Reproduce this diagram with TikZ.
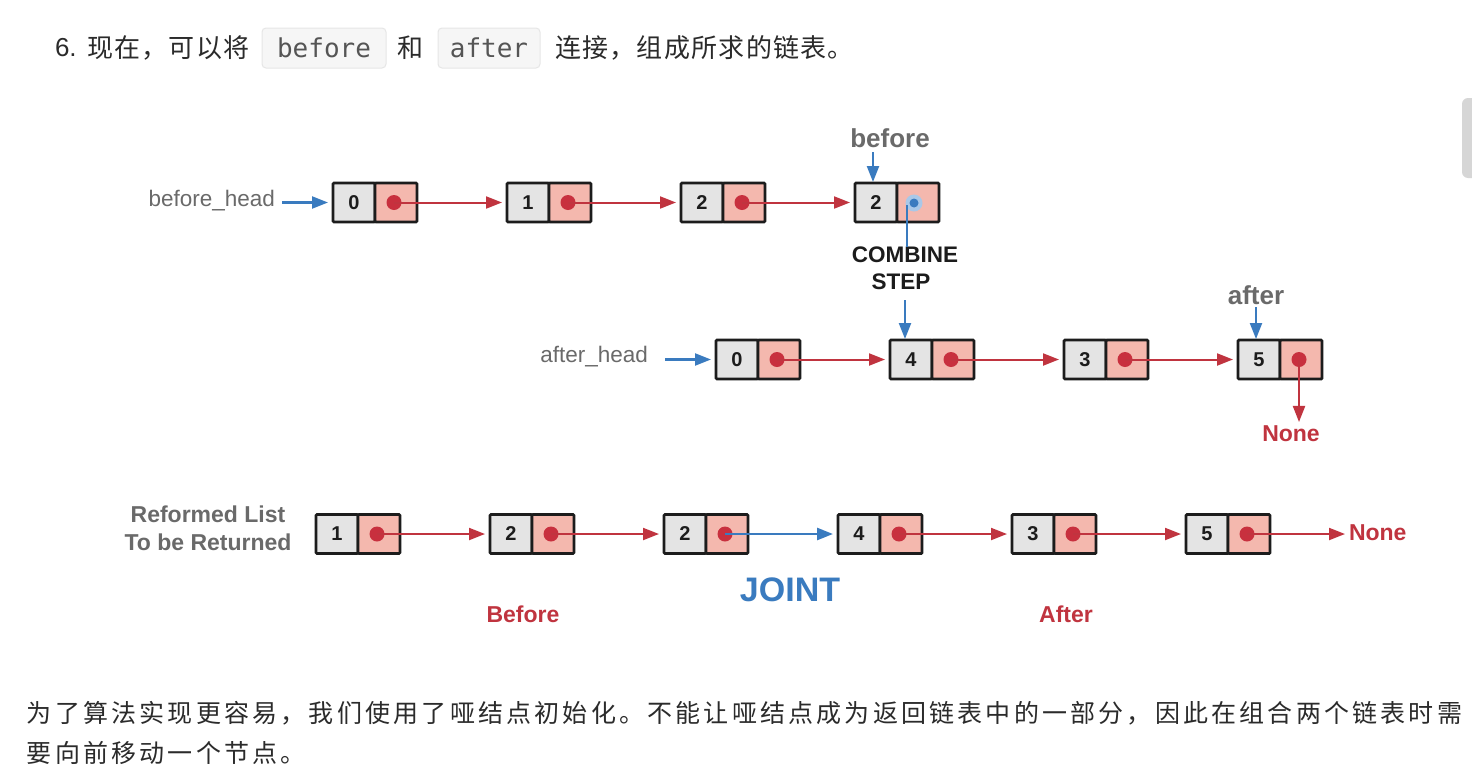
\documentclass[tikz,border=0pt]{standalone}
\usepackage{fontspec}
\setmainfont{Liberation Sans}
\newfontfamily\cjktitle[LetterSpace=5]{Noto Sans CJK SC}
\newfontfamily\cjkbody[LetterSpace=12.8]{Noto Sans CJK SC}
\newfontfamily\codefont{DejaVu Sans Mono}
\usetikzlibrary{arrows.meta}
\definecolor{redc}{HTML}{C0343F}
\definecolor{dotred}{HTML}{C8303E}
\definecolor{bluec}{HTML}{3A7BBF}
\definecolor{halo}{HTML}{A9C8E8}
\definecolor{cellgray}{HTML}{E4E4E4}
\definecolor{cellpink}{HTML}{F4B8AE}
\definecolor{boxc}{HTML}{1C1C1C}
\definecolor{labgray}{HTML}{6A6A6A}
\definecolor{txt}{HTML}{2B2B2B}
\definecolor{codebg}{HTML}{F6F6F6}
\definecolor{codebd}{HTML}{E6E6E6}
\definecolor{codetx}{HTML}{555555}
\newcommand\fs[1]{\fontsize{#1}{#1}\selectfont}
\tikzset{
  lcell/.style={draw=boxc, line width=2.8pt, fill=cellgray, minimum width=42pt, minimum height=39pt,
    inner sep=0pt, outer sep=0pt, font=\fs{20}\bfseries, text=boxc, rounded corners=1pt},
  rcell/.style={lcell, fill=cellpink},
  reddot/.style={circle, fill=dotred, minimum size=15pt, inner sep=0pt, outer sep=0pt},
  rarrow/.style={draw=redc, line width=2pt, -{Triangle[length=16pt,width=12pt]}, shorten >=5pt},
  barrow/.style={draw=bluec, line width=2.2pt, -{Triangle[length=16pt,width=12pt]}},
  lab/.style={inner sep=0pt, outer sep=0pt},
  codebox/.style={draw=codebd, line width=1pt, fill=codebg, rounded corners=4pt, minimum height=40pt,
    inner sep=0pt, font=\codefont\fs{26}, text=codetx},
}
\newcommand\listnode[4]{%
  \node[lcell, anchor=east] (#1L) at (#2,#3) {#4};
  \node[rcell, anchor=west] (#1R) at (#2,#3) {};
  \node[reddot] (#1D) at (#2+19,#3) {};
}
\begin{document}
\begin{tikzpicture}[x=1pt,y=-1pt]
\useasboundingbox (0,0) rectangle (1472,782);
\fill[white] (0,0) rectangle (1472,782);
% scrollbar
\fill[black!16, rounded corners=6pt] (1462,98) rectangle (1482,178);

% title
\node[lab, anchor=west, text=txt, font=\fs{26}] (t6) at (55,48) {6.};
\node[lab, anchor=west, text=txt, font=\cjktitle\fs{26}] (t1) at (87,48) {现在，可以将};
\node[codebox, minimum width=124pt] (cb1) at (324,48) {before};
\node[lab, anchor=west, text=txt, font=\cjktitle\fs{26}] (t2) at (397,48) {和};
\node[codebox, minimum width=102pt] (cb2) at (489,48) {after};
\node[lab, anchor=west, text=txt, font=\cjktitle\fs{26}] (t3) at (555,48) {连接，组成所求的链表。};

% row 1
\listnode{a}{375}{202.5}{0}
\listnode{b}{549}{202.5}{1}
\listnode{c}{723}{202.5}{2}
\node[lcell, anchor=east] (dL) at (897,202.5) {2};
\node[rcell, anchor=west] (dR) at (897,202.5) {};
\node[circle, fill=halo, minimum size=17pt, inner sep=0pt] (dH) at (914,203) {};
\node[circle, fill=bluec, minimum size=9pt, inner sep=0pt] (dD) at (914,203) {};
\draw[rarrow] (aD.center) -- (bL.west);
\draw[rarrow] (bD.center) -- (cL.west);
\draw[rarrow] (cD.center) -- (dL.west);
\node[lab, anchor=east, text=labgray, font=\fs{22.5}] (bh) at (275,201) {before\_head};
\draw[barrow, shorten <=7pt, shorten >=5pt] (bh.east |- aL.west) -- (aL.west);
\node[lab, text=labgray, font=\fs{26}\bfseries] (bef) at (890,138) {before};
\coordinate (befp) at (873,152);
\draw[barrow, shorten >=1pt] (befp) -- (befp |- dL.north);

% combine step
\coordinate (cs1) at (907,205);
\node[lab, font=\fs{22.5}\bfseries, text=boxc] (comb) at (905,255) {COMBINE};
\node[lab, font=\fs{22.5}\bfseries, text=boxc] (stp) at (901,282) {STEP};
\draw[bluec, line width=2.2pt] (cs1) -- (cs1 |- comb.north) ;

% row 2
\listnode{e}{758}{359.5}{0}
\listnode{f}{932}{359.5}{4}
\listnode{g}{1106}{359.5}{3}
\listnode{h}{1280}{359.5}{5}
\coordinate (cs2) at (905,300);
\draw[barrow, shorten >=1pt] (cs2) -- (cs2 |- fL.north);
\draw[rarrow] (eD.center) -- (fL.west);
\draw[rarrow] (fD.center) -- (gL.west);
\draw[rarrow] (gD.center) -- (hL.west);
\node[lab, anchor=east, text=labgray, font=\fs{22.5}] (ah) at (648,357) {after\_head};
\draw[barrow, shorten <=17pt, shorten >=5pt] (ah.east |- eL.west) -- (eL.west);
\node[lab, text=labgray, font=\fs{26}\bfseries] (aft) at (1256,295) {after};
\coordinate (aftp) at (1256,307);
\draw[barrow, shorten >=1pt] (aftp) -- (aftp |- hL.north);
\node[lab, text=redc, font=\fs{23}\bfseries] (none1) at (1291,434) {None};
\draw[rarrow, shorten >=4pt] (hD.center) -- (hD.center |- none1.north);

% row 3
\node[lab, text=labgray, font=\fs{23}\bfseries] (rf1) at (208,514) {Reformed List};
\node[lab, text=labgray, font=\fs{23}\bfseries] (rf2) at (208,542) {To be Returned};
\listnode{p}{358}{534}{1}
\listnode{q}{532}{534}{2}
\listnode{r}{706}{534}{2}
\listnode{s}{880}{534}{4}
\listnode{u}{1054}{534}{3}
\listnode{v}{1228}{534}{5}
\draw[rarrow] (pD.center) -- (qL.west);
\draw[rarrow] (qD.center) -- (rL.west);
\draw[barrow, line width=2.6pt, shorten >=5pt] (rD.center) -- (sL.west);
\draw[rarrow] (sD.center) -- (uL.west);
\draw[rarrow] (uD.center) -- (vL.west);
\node[lab, anchor=west, text=redc, font=\fs{23}\bfseries] (none2) at (1349,533) {None};
\draw[rarrow, shorten >=4pt] (vD.center) -- (vD.center -| none2.west);
\node[lab, text=bluec, font=\fs{34}\bfseries] (joint) at (790,590) {JOINT};
\node[lab, text=redc, font=\fs{23}\bfseries] (befl) at (523,614) {Before};
\node[lab, text=redc, font=\fs{23}\bfseries] (aftl) at (1066,614) {After};

% bottom text
\node[lab, anchor=west, text=txt, font=\cjkbody\fs{25}] (b1) at (27,713) {为了算法实现更容易，我们使用了哑结点初始化。不能让哑结点成为返回链表中的一部分，因此在组合两个链表时需};
\node[lab, anchor=west, text=txt, font=\cjkbody\fs{25}] (b2) at (27,753) {要向前移动一个节点。};
\end{tikzpicture}
\end{document}
